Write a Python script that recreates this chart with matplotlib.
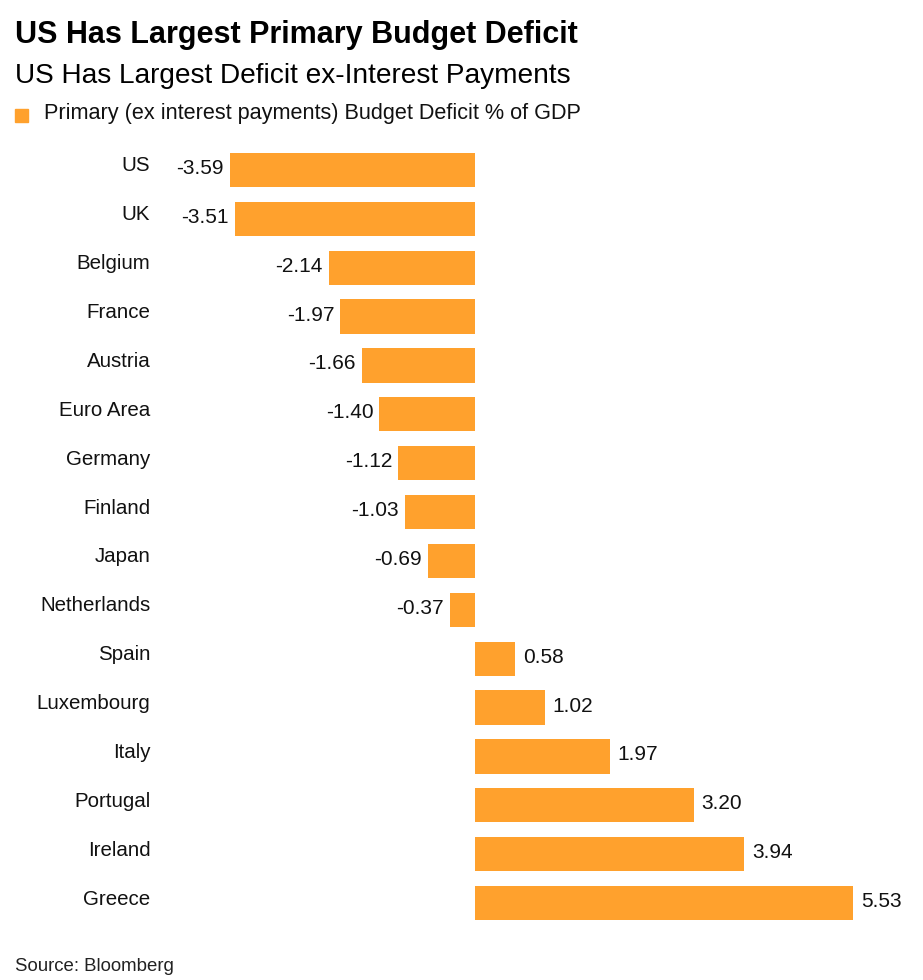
import matplotlib
matplotlib.use("Agg")
import matplotlib.pyplot as plt
from matplotlib.patches import Rectangle
import matplotlib.transforms as mtransforms

countries = ["US", "UK", "Belgium", "France", "Austria", "Euro Area", "Germany",
             "Finland", "Japan", "Netherlands", "Spain", "Luxembourg", "Italy",
             "Portugal", "Ireland", "Greece"]
values = [-3.59, -3.51, -2.14, -1.97, -1.66, -1.40, -1.12, -1.03, -0.69, -0.37,
          0.58, 1.02, 1.97, 3.20, 3.94, 5.53]

title = "US Has Largest Primary Budget Deficit"
subtitle = "US Has Largest Deficit ex-Interest Payments"
legend_label = "Primary (ex interest payments) Budget Deficit % of GDP"
source = "Source: Bloomberg"

COLOR = "#FFA12D"
FONT = "Liberation Sans"
plt.rcParams["font.family"] = [FONT, "DejaVu Sans"]

W, H = 923, 980
fig = plt.figure(figsize=(W / 100, H / 100), dpi=100)

zero_px = 475
scale = 68.35
ax_left_px, ax_right_px = 160, 905
row = 48.87
top_px = 170 - 0.5 * row
bot_px = 903 + 0.5 * row
ax = fig.add_axes([ax_left_px / W, 1 - bot_px / H,
                   (ax_right_px - ax_left_px) / W, (bot_px - top_px) / H])
ax.set_xlim((ax_left_px - zero_px) / scale, (ax_right_px - zero_px) / scale)
ax.set_ylim(len(countries) - 0.5, -0.5)

ypos = list(range(len(countries)))
ax.barh(ypos, values, height=0.70, color=COLOR, edgecolor="none")
ax.set_yticks(ypos)
ax.set_yticklabels(countries, fontsize=14.8, color="#111111")
ax.tick_params(axis="y", length=0, pad=7)
for lbl in ax.get_yticklabels():
    lbl.set_verticalalignment("center")
    lbl.set_transform(lbl.get_transform() + mtransforms.Affine2D().translate(0, 4))
ax.set_xticks([])
for s in ax.spines.values():
    s.set_visible(False)

for y, v in zip(ypos, values):
    if v < 0:
        off = mtransforms.offset_copy(ax.transData, fig=fig, x=-6, y=1.5, units="dots")
        ax.text(v, y, f"{v:.2f}", ha="right", va="center", fontsize=15,
                color="#111111", transform=off)
    else:
        off = mtransforms.offset_copy(ax.transData, fig=fig, x=8, y=1.5, units="dots")
        ax.text(v, y, f"{v:.2f}", ha="left", va="center", fontsize=15,
                color="#111111", transform=off)

fig.text(15 / W, 1 - 35 / H, title, fontsize=22, fontweight="bold",
         va="center", ha="left", color="#000000")
fig.text(15 / W, 1 - 76 / H, subtitle, fontsize=20.2, va="center", ha="left",
         color="#000000")
fig.patches.append(Rectangle((15 / W, 1 - 122 / H), 13 / W, 13 / H,
                             transform=fig.transFigure, color=COLOR))
fig.text(44 / W, 1 - 114 / H, legend_label, fontsize=15.6, va="center", ha="left",
         color="#111111")
fig.text(15 / W, 1 - 966 / H, source, fontsize=13.4, va="center", ha="left",
         color="#222222")

fig.savefig("out.png", dpi=100)
